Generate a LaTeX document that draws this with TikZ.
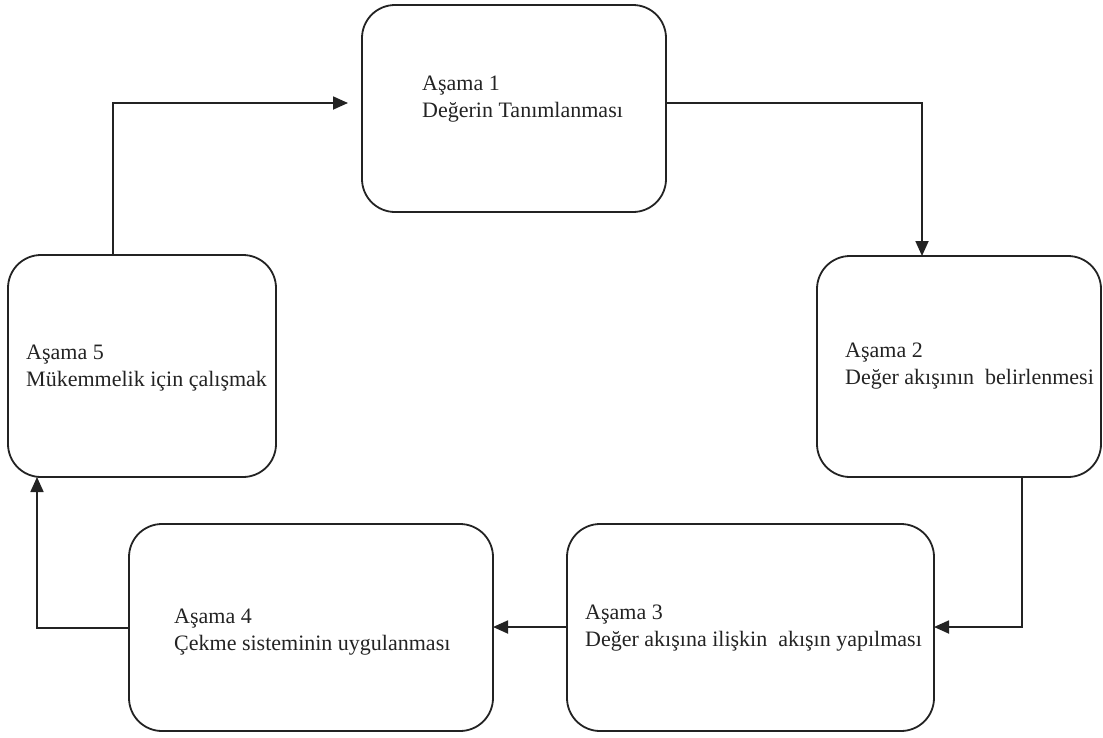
\documentclass[tikz,border=0pt]{standalone}
\usepackage{fontspec}
\setmainfont{Liberation Serif}
\usetikzlibrary{arrows.meta}
\definecolor{ink}{RGB}{35,35,35}
\begin{document}
\begin{tikzpicture}[x=1pt,y=-1pt,
  stage/.style={draw=ink, line width=1.8pt, rounded corners=33pt, inner sep=0pt, outer sep=0pt},
  stagetext/.style={anchor=base west, align=left, inner sep=0pt, text=ink,
    font=\fontsize{22}{27}\selectfont},
  conn/.style={draw=ink, line width=1.8pt, -{Triangle[length=15pt,width=13pt]}}]
  \useasboundingbox (0,0) rectangle (1103,737);

  % stage boxes
  \node[stage, minimum width=304pt, minimum height=207pt] (b1) at (514,108.5) {};
  \node[stage, minimum width=284pt, minimum height=221pt] (b2) at (959,366.5) {};
  \node[stage, minimum width=367pt, minimum height=207pt] (b3) at (750.5,627.5) {};
  \node[stage, minimum width=364pt, minimum height=207pt] (b4) at (311,627.5) {};
  \node[stage, minimum width=268pt, minimum height=222pt] (b5) at (142,366) {};

  % stage labels (placed by the baseline of their second line)
  \node[stagetext] (t1) at (422,117) {Aşama 1\\Değerin Tanımlanması};
  \node[stagetext] (t2) at (845,384) {Aşama 2\\Değer akışının~ belirlenmesi};
  \node[stagetext] (t3) at (585,646) {Aşama 3\\Değer akışına ilişkin~ akışın yapılması};
  \node[stagetext] (t4) at (174,650) {Aşama 4\\Çekme sisteminin uygulanması};
  \node[stagetext] (t5) at (26,386) {Aşama 5\\Mükemmelik için çalışmak};

  % bend points of the cycle
  \coordinate (c1) at (922,103);
  \coordinate (c2) at (1022,627);
  \coordinate (c4) at (37,628);
  \coordinate (c5) at (113,103);
  \coordinate (c5e) at (348,103);

  % connectors
  \draw[conn] (b1.east |- c1) -- (c1) -- (b2.north -| c1);
  \draw[conn] (b2.south -| c2) -- (c2) -- (b3.east |- c2);
  \draw[conn] (b3.west |- c2) -- (b4.east |- c2);
  \draw[conn] (b4.west |- c4) -- (c4) -- (b5.south -| c4);
  \draw[conn] (b5.north -| c5) -- (c5) -- (c5e);
\end{tikzpicture}
\end{document}
